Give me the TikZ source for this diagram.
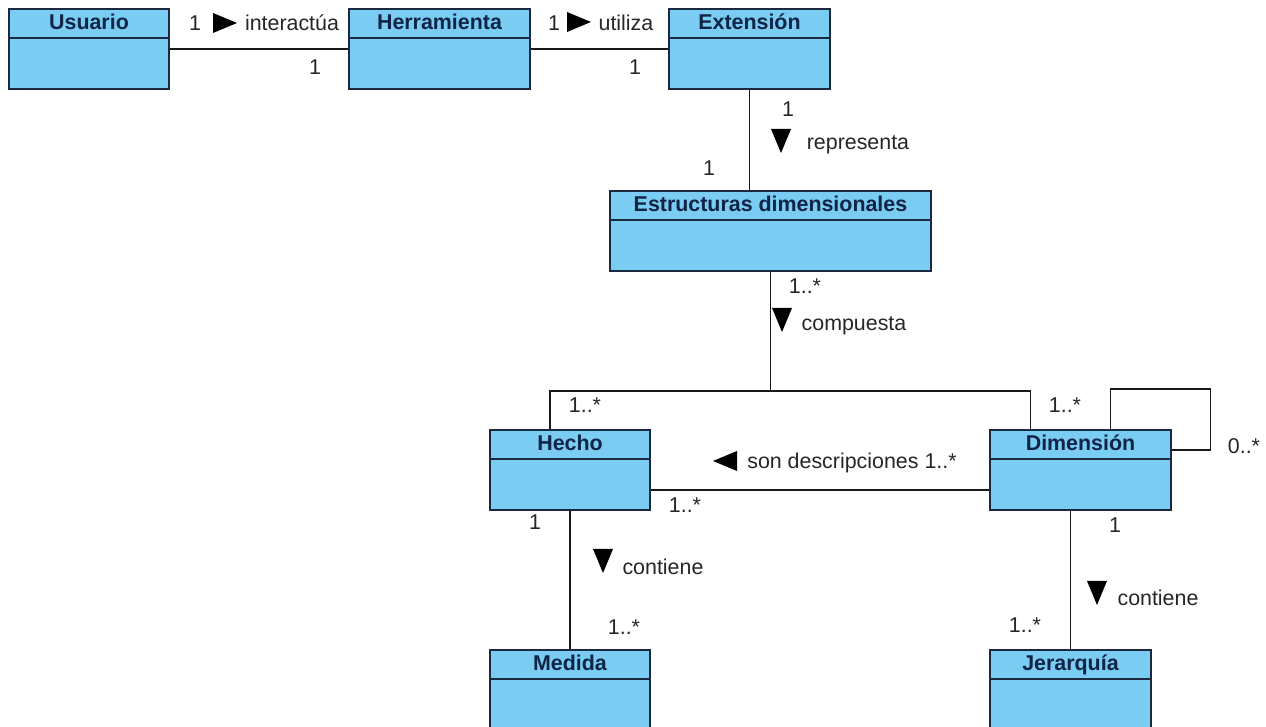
\documentclass[tikz,border=0pt]{standalone}
\usepackage{fontspec}
\setmainfont{Liberation Sans}
\usetikzlibrary{calc}

\definecolor{claseazul}{RGB}{122,204,242}
\definecolor{bordeazul}{RGB}{28,40,62}
\definecolor{tituloazul}{RGB}{16,36,70}

% triangulos de direccion de la asociacion
\newcommand{\flechaR}[1]{\fill (#1) ++(-12,-10) -- ++(24,10) -- ++(-24,10) -- cycle;}
\newcommand{\flechaL}[1]{\fill (#1) ++(12,-10) -- ++(-24,10) -- ++(24,10) -- cycle;}
\newcommand{\flechaD}[1]{\fill (#1) ++(-10,-12) -- ++(20,0) -- ++(-10,24) -- cycle;}

\begin{document}
\begin{tikzpicture}[x=0.5pt,y=-0.5pt,
  clase/.style={draw=bordeazul,line width=1pt,fill=claseazul,minimum height=40pt,inner sep=0pt,anchor=north west},
  divisor/.style={draw=bordeazul,line width=1pt},
  titulo/.style={font=\fontsize{10.7}{12}\selectfont\bfseries,text=tituloazul,inner sep=0pt,anchor=base},
  etiq/.style={font=\fontsize{10.7}{12}\selectfont,text=black!85,inner sep=0pt},
  linea/.style={line width=0.9pt,black!90}]
\useasboundingbox (0,0) rectangle (1266,727);
\clip (0,0) rectangle (1266,727);

% clases
\node[clase,minimum width=80pt] (usuario) at (8,8) {};
\draw[divisor] ([yshift=-15pt]usuario.north west) -- ([yshift=-15pt]usuario.north east);
\node[titulo] (usuario-t) at ([yshift=-11pt]usuario.north) {Usuario};

\node[clase,minimum width=90.5pt] (herramienta) at (348,8) {};
\draw[divisor] ([yshift=-15pt]herramienta.north west) -- ([yshift=-15pt]herramienta.north east);
\node[titulo] (herramienta-t) at ([yshift=-11pt]herramienta.north) {Herramienta};

\node[clase,minimum width=80.5pt] (extension) at (668,8) {};
\draw[divisor] ([yshift=-15pt]extension.north west) -- ([yshift=-15pt]extension.north east);
\node[titulo] (extension-t) at ([yshift=-11pt]extension.north) {Extensión};

\node[clase,minimum width=160.5pt] (estructuras) at (609,190) {};
\draw[divisor] ([yshift=-15pt]estructuras.north west) -- ([yshift=-15pt]estructuras.north east);
\node[titulo] (estructuras-t) at ([yshift=-11pt]estructuras.north) {Estructuras dimensionales};

\node[clase,minimum width=80pt] (hecho) at (489,429) {};
\draw[divisor] ([yshift=-15pt]hecho.north west) -- ([yshift=-15pt]hecho.north east);
\node[titulo] (hecho-t) at ([yshift=-11pt]hecho.north) {Hecho};

\node[clase,minimum width=90.5pt] (dimension) at (989,429) {};
\draw[divisor] ([yshift=-15pt]dimension.north west) -- ([yshift=-15pt]dimension.north east);
\node[titulo] (dimension-t) at ([yshift=-11pt]dimension.north) {Dimensión};

\node[clase,minimum width=80pt] (medida) at (489,649) {};
\draw[divisor] ([yshift=-15pt]medida.north west) -- ([yshift=-15pt]medida.north east);
\node[titulo] (medida-t) at ([yshift=-11pt]medida.north) {Medida};

\node[clase,minimum width=80.5pt] (jerarquia) at (989,649) {};
\draw[divisor] ([yshift=-15pt]jerarquia.north west) -- ([yshift=-15pt]jerarquia.north east);
\node[titulo] (jerarquia-t) at ([yshift=-11pt]jerarquia.north) {Jerarquía};

% asociaciones
\draw[linea] (usuario) -- (herramienta);
\draw[linea] (herramienta) -- (extension);
\draw[linea] (extension.south) -- (extension.south |- estructuras.north);
\draw[linea] (estructuras.south) -- ++(0,119) coordinate (union);
\draw[linea] ([xshift=-10pt]hecho.north) |- (union) -| ([xshift=-25pt]dimension.north);
\draw[linea] ([yshift=-10pt]hecho.east) -- ([yshift=-10pt]hecho.east -| dimension.west);
\draw[linea] ([xshift=15pt]dimension.north) -- ++(0,-40) -- ++(100,0) |- ([yshift=10pt]dimension.east);
\draw[linea] (hecho) -- (medida);
\draw[linea] (jerarquia.north) -- (jerarquia.north |- dimension.south);

% etiquetas
\node[etiq] (m1) at (195,23) {1};
\flechaR{225,23}
\node[etiq] (interactua) at (292,23) {interactúa};
\node[etiq] (m2) at (315,67) {1};

\node[etiq] (m3) at (554,23) {1};
\flechaR{579,22}
\node[etiq] (utiliza) at (626,23) {utiliza};
\node[etiq] (m4) at (635,67) {1};

\node[etiq] (m5) at (788,109) {1};
\flechaD{781,141}
\node[etiq] (representa) at (858,145) {representa};
\node[etiq] (m6) at (709,168) {1};

\node[etiq] (m7) at (805,286) {1..*};
\flechaD{782,320}
\node[etiq] (compuesta) at (854,326) {compuesta};

\node[etiq] (m8) at (585,405) {1..*};
\node[etiq] (m9) at (1065,405) {1..*};
\node[etiq] (m10) at (1244,446) {0..*};
\flechaL{725,461}
\node[etiq] (descripciones) at (852,463) {son descripciones 1..*};
\node[etiq] (m11) at (685,505) {1..*};

\node[etiq] (m12) at (535,522) {1};
\flechaD{603,561}
\node[etiq] (contiene1) at (663,567) {contiene};
\node[etiq] (m13) at (624,627) {1..*};

\node[etiq] (m14) at (1115,525) {1};
\flechaD{1097,593}
\node[etiq] (contiene2) at (1158,598) {contiene};
\node[etiq] (m15) at (1025,625) {1..*};
\end{tikzpicture}
\end{document}
